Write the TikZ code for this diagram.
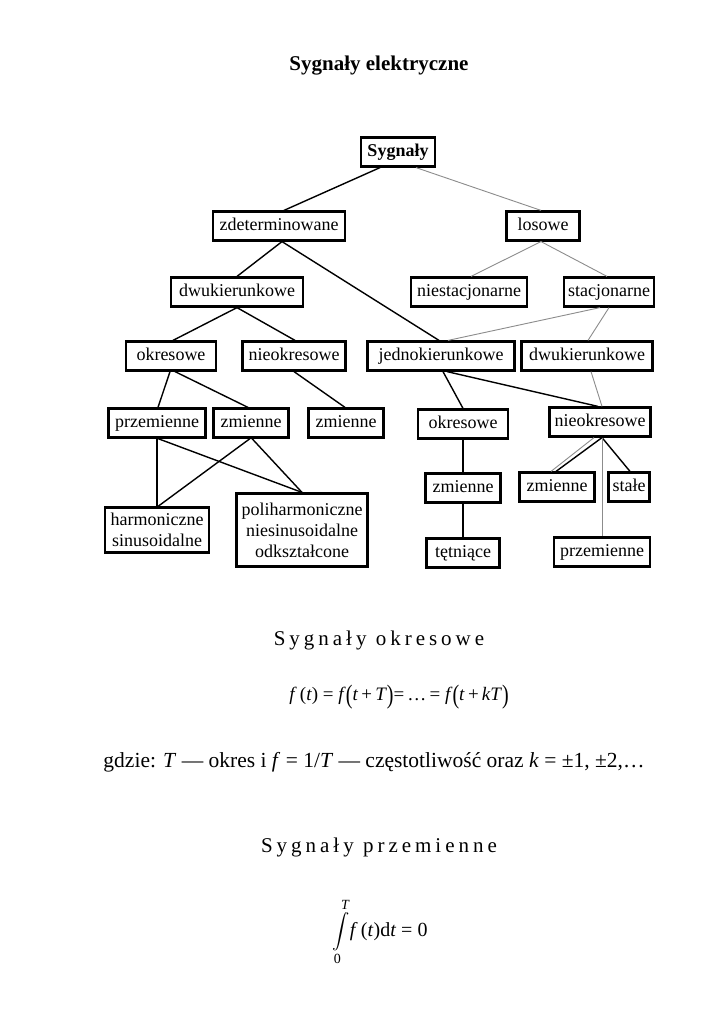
\documentclass[tikz,border=0pt]{standalone}
\usepackage{exscale}
\usepackage{graphicx}
\usepackage{fontspec}
\setmainfont{Liberation Serif}
\newfontfamily\spacedfont{Liberation Serif}[LetterSpace=19]
\newcommand\bigpar[1]{\raisebox{-0.17em}{\scalebox{1.05}[1.4]{#1}}}
\begin{document}
\begin{tikzpicture}[x=1pt,y=-1pt,
  box/.style={draw, line width=2.2pt, inner xsep=4pt, inner ysep=0pt, text height=13pt, text depth=4.5pt, minimum height=29pt, font=\fontsize{18}{21}\selectfont},
  mbox/.style={draw, line width=2.2pt, inner xsep=4pt, inner ysep=4pt, align=center, font=\fontsize{18}{21}\selectfont},
  blk/.style={line width=1.4pt, black},
  gry/.style={line width=0.9pt, black!45}]
\useasboundingbox[fill=white] (0,0) rectangle (724,1024);

\node[font=\fontsize{21}{25}\selectfont\bfseries] (title) at (379,66) {Sygnały elektryczne};

\node[box, font=\fontsize{18}{21}\selectfont\bfseries, minimum width=74pt] (S) at (398,152) {Sygnały};
\node[box, minimum width=132pt] (zd) at (279,226) {zdeterminowane};
\node[box, minimum width=73pt] (lo) at (543,226) {losowe};
\node[box, minimum width=132pt] (dwL) at (237,292) {dwukierunkowe};
\node[box, minimum width=116pt] (nst) at (469,292) {niestacjonarne};
\node[box, minimum width=88pt] (st) at (609,292) {stacjonarne};
\node[box, minimum width=90pt] (okL) at (171,356) {okresowe};
\node[box, minimum width=103pt] (nokL) at (294,356) {nieokresowe};
\node[box, minimum width=147pt] (je) at (441,356) {jednokierunkowe};
\node[box, minimum width=131pt] (dwR) at (587,356) {dwukierunkowe};
\node[box, minimum width=97pt] (prL) at (157,423) {przemienne};
\node[box, minimum width=75pt] (zmL) at (251,423) {zmienne};
\node[box, minimum width=75pt] (zmM) at (346,423) {zmienne};
\node[box, minimum width=90pt] (okR) at (463,424) {okresowe};
\node[box, minimum width=101pt] (nokR) at (600,422) {nieokresowe};
\node[box, minimum width=75pt] (zmO) at (463,488) {zmienne};
\node[box, minimum width=75pt] (zmR) at (557,487) {zmienne};
\node[box, minimum width=41pt] (sta) at (629,487) {stałe};
\node[mbox, minimum width=104pt, minimum height=45pt] (har) at (157,530) {harmoniczne\\sinusoidalne};
\node[mbox, minimum width=131pt, minimum height=73pt] (pol) at (302,530) {poliharmoniczne\\niesinusoidalne\\odkształcone};
\node[box, minimum width=73pt] (tet) at (463,553) {tętniące};
\node[box, minimum width=96pt] (prR) at (602,552) {przemienne};

\draw[blk] ([xshift=-18pt]S.south) -- ([xshift=5pt]zd.north);
\draw[gry] ([xshift=18pt]S.south) -- ([xshift=-2pt]lo.north);
\draw[blk] ([xshift=3pt]zd.south) -- (dwL.north);
\draw[blk] ([xshift=3pt]zd.south) -- ([xshift=-2pt]je.north);
\draw[gry] ([xshift=-2pt]lo.south) -- ([xshift=2pt]nst.north);
\draw[gry] ([xshift=-2pt]lo.south) -- ([xshift=-2pt]st.north);
\draw[gry] ([xshift=-9pt]st.south) -- ([xshift=7pt]je.north);
\draw[gry] (st.south) -- ([xshift=1pt]dwR.north);
\draw[blk] (dwL.south) -- ([xshift=2pt]okL.north);
\draw[blk] (dwL.south) -- ([xshift=1pt]nokL.north);
\draw[blk] ([xshift=-1pt]okL.south) -- ([xshift=1pt]prL.north);
\draw[blk] ([xshift=4pt]okL.south) -- ([xshift=-3pt]zmL.north);
\draw[blk] (nokL.south) -- ([xshift=-1pt]zmM.north);
\draw[blk] ([xshift=2pt]je.south) -- (okR.north);
\draw[blk] ([xshift=6pt]je.south) -- ([xshift=-2pt]nokR.north);
\draw[gry] ([xshift=4pt]dwR.south) -- ([xshift=2pt]nokR.north);
\draw[blk] (prL.south) -- (har.north);
\draw[blk] ([xshift=1pt]prL.south) -- (pol.north);
\draw[blk] ([xshift=-1pt]zmL.south) -- ([xshift=1pt]har.north);
\draw[blk] ([xshift=1pt]zmL.south) -- (pol.north);
\draw[blk] (okR.south) -- (zmO.north);
\draw[blk] (zmO.south) -- (tet.north);
\draw[gry] ([xshift=-6pt]nokR.south) -- ([xshift=-6pt]zmR.north);
\draw[blk] ([xshift=2pt]nokR.south) -- ([xshift=-1pt]zmR.north);
\draw[blk] ([xshift=2pt]nokR.south) -- ([xshift=1pt]sta.north);
\draw[gry] ([xshift=2pt]nokR.south) -- (prR.north);

\node[font=\spacedfont\fontsize{21}{25}\selectfont] (h1) at (379,640) {Sygnały okresowe};
\node[font=\fontsize{19}{23}\selectfont] (f1) at (399,697) {\textit{f}\,(\textit{t}) = \textit{f}\bigpar{(}\textit{t}\,+\,\textit{T}\bigpar{)}=\,…\,= \textit{f}\bigpar{(}\textit{t}\,+\,\textit{kT}\bigpar{)}};
\node[font=\fontsize{21.5}{25}\selectfont] (f2) at (374,762) {gdzie: \textit{T} — okres i \textit{f} = 1/\textit{T} — częstotliwość oraz \textit{k} = ±1, ±2,…};
\node[font=\spacedfont\fontsize{21}{25}\selectfont] (h2) at (379,847) {Sygnały przemienne};
\node[font=\fontsize{20}{24}\selectfont] (f3) at (380,932) {{\fontsize{17}{20}\selectfont$\displaystyle\int\limits_{\mbox{\fontsize{14}{14}\selectfont 0}}^{\mbox{\fontsize{14}{14}\selectfont\itshape T}}$}\textit{f}\,(\textit{t})d\textit{t} = 0};
\end{tikzpicture}
\end{document}
